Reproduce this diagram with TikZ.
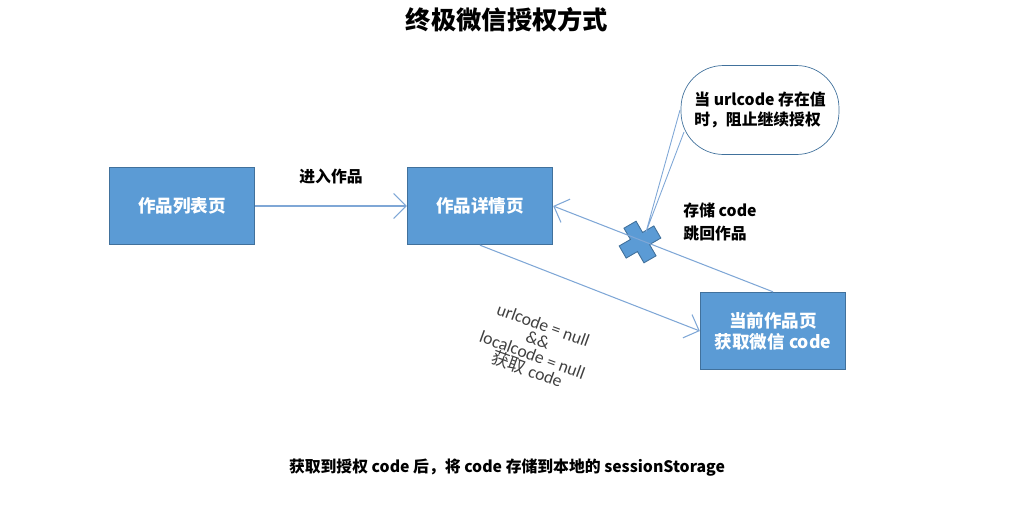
\documentclass[tikz,border=0pt]{standalone}
\usepackage{fontspec}
\setmainfont{Carlito}
\newfontfamily\cjk{Noto Sans CJK SC}
\usetikzlibrary{arrows.meta,calc}
\definecolor{boxblue}{HTML}{5B9BD5}
\definecolor{boxedge}{HTML}{41719C}
\definecolor{linkblue}{HTML}{7FA7D6}
\tikzset{
  page/.style={draw=boxedge, fill=boxblue, minimum width=2.9cm, minimum height=1.54cm,
    text=white, font=\cjk\bfseries, align=center, line width=0.8pt},
  link/.style={draw=linkblue, -{Straight Barb[length=2.5mm]}, line width=0.6pt},
  note/.style={font=\cjk\bfseries\small, align=left}
}
\begin{document}
\begin{tikzpicture}[x=0.02cm, y=-0.02cm]
\useasboundingbox (0,0) rectangle (1014,508);
\node[font=\cjk\bfseries\Large] (title) at (507,20) {终极微信授权方式};

\node[page] (list) at (182,206) {作品列表页};
\node[page] (detail) at (480,206) {作品详情页};
\node[page] (current) at (773,331) {当前作品页\\获取微信 code};

\node[draw=boxedge, rounded corners=0.85cm, minimum width=3.16cm, minimum height=1.78cm,
  align=left, font=\cjk\bfseries\small] (stop) at (760,110) {当 urlcode 存在值\\时，阻止继续授权};

\coordinate (cross) at (640,242);
\draw[boxedge, fill=boxblue, rotate around={30:(cross)}, line width=0.5pt]
  ($(cross)+(-7,-20)$) -- ++(14,0) -- ++(0,13) -- ++(13,0) -- ++(0,14) -- ++(-13,0)
  -- ++(0,13) -- ++(-14,0) -- ++(0,-13) -- ++(-13,0) -- ++(0,-14) -- ++(13,0) -- cycle;
\draw[linkblue, line width=0.5pt] (680,110) -- (646,232) -- (684,132);

\draw[link] (list) -- (detail) node[midway, above=9pt, font=\cjk\bfseries\small] (enter) {进入作品};
\draw[link] (current.north) -- (detail.east);
\draw[link] (detail.south) -- (current.west);

\node[note] (save) at (720,222) {存储 code\\[2pt]跳回作品};

\node[rotate=-20, align=center, font=\normalsize, text=black!75, inner sep=0pt] (cond) at (535,348)
  {urlcode = null\\[-3pt]\&\&\\[-3pt]localcode = null\\[-3pt]{\cjk 获取} code};

\node[font=\cjk\bfseries\small] (foot) at (507,468) {获取到授权 code 后，将 code 存储到本地的 sessionStorage};
\end{tikzpicture}
\end{document}
